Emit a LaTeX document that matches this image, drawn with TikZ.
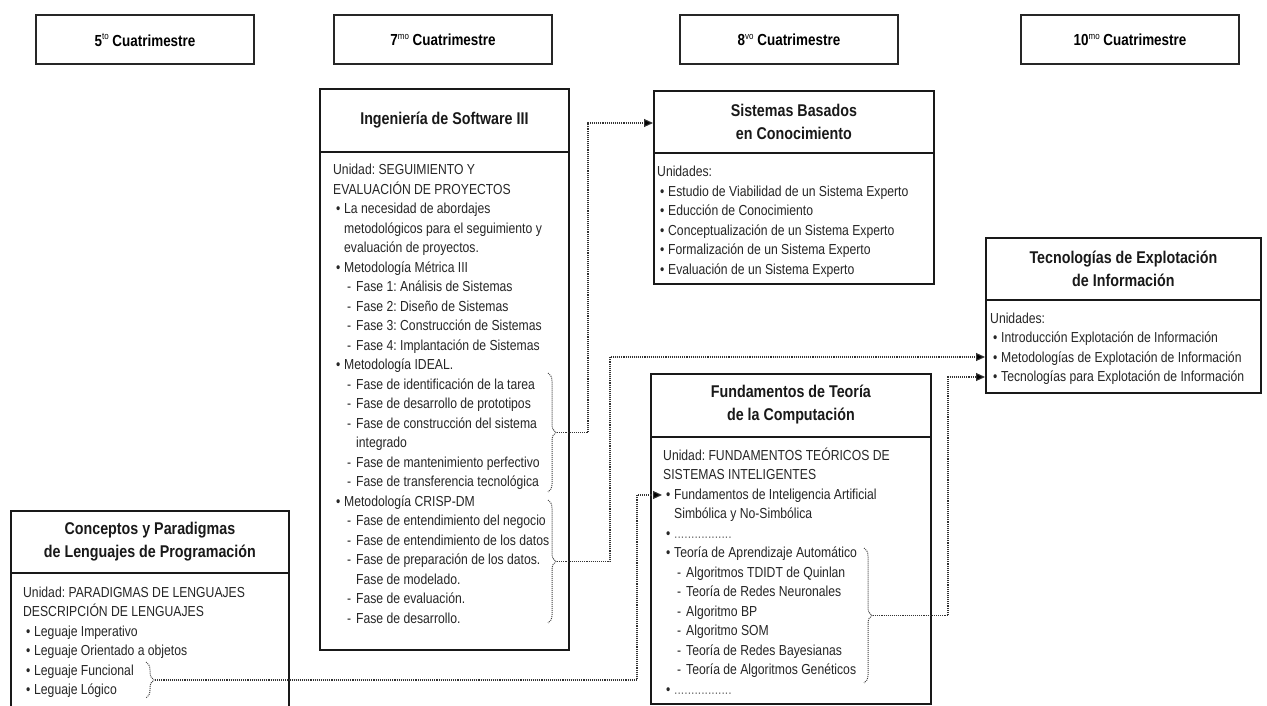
\documentclass[tikz,border=0pt]{standalone}
\usepackage{fontspec}
\setmainfont{Liberation Sans}[FakeStretch=0.84]
\usetikzlibrary{arrows.meta,decorations.pathreplacing,calc}
\frenchspacing
\newcommand{\bu}{\hspace*{3pt}\makebox[8pt][l]{\textbullet}}
\newcommand{\bc}{\hspace*{11pt}}
\newcommand{\da}{\hspace*{14pt}\makebox[9pt][l]{-}}
\newcommand{\dc}{\hspace*{23pt}}
\newcommand{\sups}[1]{\raisebox{0.42em}{\fontsize{9.5}{10}\selectfont\mdseries #1}}
\newcommand{\dotsline}{{\color{black!55}.................}}
\begin{document}
\begin{tikzpicture}[x=1pt,y=1pt,
  hdr/.style={draw=black!85,line width=2pt,minimum width=218pt,minimum height=49pt,inner sep=0,font=\fontsize{16}{19}\selectfont\bfseries\frenchspacing},
  boxs/.style={draw=black!90,line width=1.8pt,anchor=north west,inner sep=0},
  ttl/.style={align=center,inner sep=0,font=\fontsize{17}{23}\selectfont\bfseries\frenchspacing,text=black!90},
  bdy/.style={anchor=base west,inner sep=0,font=\fontsize{14.5}{19.5}\selectfont\frenchspacing,text=black!85},
  conn/.style={densely dotted,line width=1.1pt,draw=black!80,-{Triangle[length=9pt,width=8pt,fill=black]}},
  brc/.style={densely dotted,line width=1pt,draw=black!75,decorate,decoration={brace,amplitude=8pt}},
  sep/.style={line width=1.8pt,draw=black!90}]

\useasboundingbox (0,0) rectangle (1267,-706);
\fill[white] (0,0) rectangle (1267,-706);

% headers
\node[hdr] (h5) at (145,-40) {5\sups{to} Cuatrimestre};
\node[hdr] (h7) at (443,-40) {7\sups{mo} Cuatrimestre};
\node[hdr] (h8) at (789,-40) {8\sups{vo} Cuatrimestre};
\node[hdr] (h10) at (1130,-40) {10\sups{mo} Cuatrimestre};

% Ingenieria de Software III
\node[boxs,minimum width=249pt,minimum height=561pt] (ing) at (319,-88) {};
\draw[sep] ([yshift=-64pt]ing.north west) -- ([yshift=-64pt]ing.north east);
\node[ttl] (ingt) at ([yshift=-32pt]ing.north) {Ingeniería de Software III};
\node[bdy] (ingb) at (333,-175) {\begin{tabular}[t]{@{}l@{}}
Unidad: SEGUIMIENTO Y\\
EVALUACIÓN DE PROYECTOS\\
\bu La necesidad de abordajes\\
\bc metodológicos para el seguimiento y\\
\bc evaluación de proyectos.\\
\bu Metodología Métrica III\\
\da Fase 1: Análisis de Sistemas\\
\da Fase 2: Diseño de Sistemas\\
\da Fase 3: Construcción de Sistemas\\
\da Fase 4: Implantación de Sistemas\\
\bu Metodología IDEAL.\\
\da Fase de identificación de la tarea\\
\da Fase de desarrollo de prototipos\\
\da Fase de construcción del sistema\\
\dc integrado\\
\da Fase de mantenimiento perfectivo\\
\da Fase de transferencia tecnológica\\
\bu Metodología CRISP-DM\\
\da Fase de entendimiento del negocio\\
\da Fase de entendimiento de los datos\\
\da Fase de preparación de los datos.\\
\dc Fase de modelado.\\
\da Fase de evaluación.\\
\da Fase de desarrollo.
\end{tabular}};

% Sistemas Basados en Conocimiento
\node[boxs,minimum width=280pt,minimum height=193pt] (sbc) at (653,-90) {};
\draw[sep] ([yshift=-63pt]sbc.north west) -- ([yshift=-63pt]sbc.north east);
\node[ttl] (sbct) at ([yshift=-31.5pt]sbc.north) {Sistemas Basados\\en Conocimiento};
\node[bdy] (sbcb) at (657,-177) {\begin{tabular}[t]{@{}l@{}}
Unidades:\\
\bu Estudio de Viabilidad de un Sistema Experto\\
\bu Educción de Conocimiento\\
\bu Conceptualización de un Sistema Experto\\
\bu Formalización de un Sistema Experto\\
\bu Evaluación de un Sistema Experto
\end{tabular}};

% Tecnologias de Explotacion de Informacion
\node[boxs,minimum width=275pt,minimum height=155pt] (tei) at (985,-237) {};
\draw[sep] ([yshift=-63pt]tei.north west) -- ([yshift=-63pt]tei.north east);
\node[ttl] (teit) at ([yshift=-31.5pt]tei.north) {Tecnologías de Explotación\\de Información};
\node[bdy] (teib) at (990,-323) {\begin{tabular}[t]{@{}l@{}}
Unidades:\\
\bu Introducción Explotación de Información\\
\bu Metodologías de Explotación de Información\\
\bu Tecnologías para Explotación de Información
\end{tabular}};

% Fundamentos de Teoria de la Computacion
\node[boxs,minimum width=280pt,minimum height=330pt] (ftc) at (650,-373) {};
\draw[sep] ([yshift=-64pt]ftc.north west) -- ([yshift=-64pt]ftc.north east);
\node[ttl] (ftct) at ([yshift=-32pt]ftc.north) {Fundamentos de Teoría\\de la Computación};
\node[bdy] (ftcb) at (663,-460) {\begin{tabular}[t]{@{}l@{}}
Unidad: FUNDAMENTOS TEÓRICOS DE\\
SISTEMAS INTELIGENTES\\
\bu Fundamentos de Inteligencia Artificial\\
\bc Simbólica y No-Simbólica\\
\bu \dotsline\\
\bu Teoría de Aprendizaje Automático\\
\da Algoritmos TDIDT de Quinlan\\
\da Teoría de Redes Neuronales\\
\da Algoritmo BP\\
\da Algoritmo SOM\\
\da Teoría de Redes Bayesianas\\
\da Teoría de Algoritmos Genéticos\\
\bu \dotsline
\end{tabular}};

% Conceptos y Paradigmas
\node[boxs,minimum width=278pt,minimum height=215pt] (cpl) at (10,-510) {};
\draw[sep] ([yshift=-63pt]cpl.north west) -- ([yshift=-63pt]cpl.north east);
\node[ttl] (cplt) at ([yshift=-31.5pt]cpl.north) {Conceptos y Paradigmas\\de Lenguajes de Programación};
\node[bdy] (cplb) at (23,-597) {\begin{tabular}[t]{@{}l@{}}
Unidad: PARADIGMAS DE LENGUAJES\\
DESCRIPCIÓN DE LENGUAJES\\
\bu Leguaje Imperativo\\
\bu Leguaje Orientado a objetos\\
\bu Leguaje Funcional\\
\bu Leguaje Lógico
\end{tabular}};

% braces
\draw[brc] (548,-373) -- (548,-492);
\coordinate (bideal) at (557,-432.5);
\draw[brc] (548,-500) -- (548,-623);
\coordinate (bcrisp) at (557,-561.5);
\draw[brc] (864,-548) -- (864,-683);
\coordinate (bteo) at (873,-615.5);
\draw[brc] (146,-662) -- (146,-698);
\coordinate (bcpl) at (155,-680);

% arrow targets
\coordinate (sin) at ([yshift=-33pt]sbc.north west);
\coordinate (tin1) at ([yshift=-120pt]tei.north west);
\coordinate (tin2) at ([yshift=-140pt]tei.north west);
\coordinate (fin) at ([shift={(12pt,-122pt)}]ftc.north west);

% connectors
\draw[conn] (bideal) -- ++(31,0) |- (sin);
\draw[conn] (bcrisp) -- ++(53,0) |- (tin1);
\draw[conn] (bteo) -- ++(75,0) |- (tin2);
\draw[conn] (bcpl) -- ++(482,0) |- (fin);
\end{tikzpicture}
\end{document}
